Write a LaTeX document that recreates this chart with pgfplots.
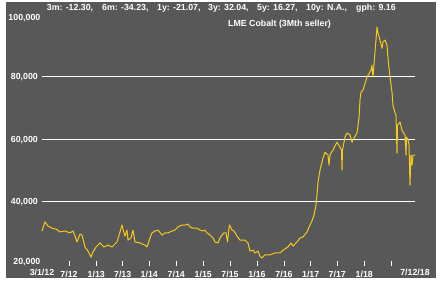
\documentclass[border=0pt]{standalone}
\usepackage{fontspec}
\setmainfont{Liberation Sans}
\usepackage{pgfplots}
\pgfplotsset{compat=1.18}
\definecolor{bg}{RGB}{88,88,88}
\definecolor{cob}{RGB}{245,200,28}
\begin{document}
\begin{tikzpicture}[x=1pt,y=1pt]
\fill[white] (0,0) rectangle (445,282);
\fill[bg] (6,4) rectangle (436,280);
\begin{axis}[
 at={(42pt,17.4pt)}, anchor=south west,
 scale only axis, width=373pt, height=251.2pt,
 xmin=0, xmax=373, ymin=20000, ymax=100000,
 scaled y ticks=false, scaled x ticks=false,
 axis line style={draw=none},
 clip=false,
 xtick pos=bottom, ytick pos=left,
 tick label style={font=\fontsize{8.8}{10}\selectfont\bfseries, text=white, inner sep=0pt},
 xtick={27,54.3,80.7,107.3,134.3,161.3,188,215,242,268.7,295.3,322.3,349.3},
 xticklabels={7/12,1/13,7/13,1/14,7/14,1/15,7/15,1/16,7/16,1/17,7/17,1/18,{}},
 xticklabel style={anchor=base, yshift=-10.6pt},
 xtick style={white, line width=0.8pt, yshift=1.1pt},
 major tick length=5pt, tick align=center,
 extra x ticks={0,373},
 extra x tick labels={3/1/12,7/12/18},
 extra x tick style={major tick length=0pt, grid=none},
 ytick={40000,60000,80000},
 yticklabels={{40,000},{60,000},{80,000}},
 yticklabel style={anchor=base east, yshift=-3.1pt, xshift=-1.5pt},
 ytick style={draw=none},
 ymajorgrids,
 major grid style={white, line width=0.8pt},
 extra y ticks={20000,100000},
 extra y tick labels={{\raisebox{3.6pt}{20,000}},{\raisebox{-3.6pt}{100,000}}},
 extra y tick style={grid=none, major tick length=0pt},
]
\addplot[cob, line width=1pt, line join=round, mark=none] coordinates {
(0,30700) (3,33600) (6,32300) (10,31600) (14,31300) (18,30400) (23,30700)
(28,30100) (31,30700) (33,29100) (35,27200) (38,29700) (40,29400) (43,25600)
(46,24300) (49,22400) (51,24000) (54,25600) (58,26900) (62,25600) (66,26200)
(70,25600) (75,27200) (78,30400) (80,32600) (82,30100) (83,29100) (85,31000)
(86,27800) (89,28500) (91,31000) (93,27200) (98,26900) (103,26200) (105,25600)
(108,28500) (110,30100) (113,30700) (116,31000) (120,29400) (123,30100)
(126,30100) (130,30700) (133,31000) (136,32000) (140,32600) (143,32600)
(146,32900) (148,32000) (151,31600) (155,31600) (158,31000) (161,30700)
(163,31000) (165,30100) (168,29400) (171,28500) (173,27200) (176,26900)
(178,28500) (180,29400) (182,30100) (184,30100) (185.5,27200) (186.5,30400)
(187.5,32600) (190,31000) (192,30700) (195,29100) (198,27800) (203,27800)
(206,26900) (208,24300) (211,24600) (213,23700) (216,24300) (218,22700)
(220,22100) (223,23100) (228,23100) (233,23700) (238,23700) (241,24600)
(246,25600) (249,26900) (251,25900) (255,27200) (258,28500) (261,28800)
(265,30400) (268,32600) (270,33900) (272,35800) (274,39000) (275,42200)
(276,46300) (278,50100) (279,51400) (281,53900) (283,55800) (286,54900)
(287,51700) (288,54900) (289,55500) (291,56500) (295,59000) (298,57400)
(299.5,56500) (300,50100) (300.5,56500) (303,60600) (305,61900) (308,61300)
(310,59000) (312,60300) (315,61900) (317,66700) (318,72400) (319,74900)
(321,75600) (325,79700) (326,80300) (329,81900) (330,83500) (331,79700)
(333,87700) (335,95600) (336,93700) (338,91500) (340,88900) (341,90900)
(343,91500) (345,89900) (346,85800) (348,79700) (350,74900) (351,70800)
(353,68300) (354,67600) (355,55500) (355.5,64400) (358,65400) (360,62800)
(361,62200) (363,61300) (364,54900) (364.5,60600) (366,59700) (367,58100)
(368,45300) (369,54900) (370,51700) (371,54900) (373,54900)
};
\end{axis}
\begin{scope}[every node/.style={font=\fontsize{8.8}{10}\selectfont\bfseries, text=white, inner sep=0pt, anchor=base west}]
\node at (46.7,271.5) {3m: -12.30,};
\node at (102,271.5) {6m: -34.23,};
\node at (157,271.5) {1y: -21.07,};
\node at (208,271.5) {3y: 32.04,};
\node at (257,271.5) {5y: 16.27,};
\node at (306,271.5) {10y: N.A.,};
\node at (356,271.5) {gph: 9.16};
\node at (228,255.5) {LME Cobalt (3Mth seller)};
\end{scope}
\end{tikzpicture}
\end{document}
